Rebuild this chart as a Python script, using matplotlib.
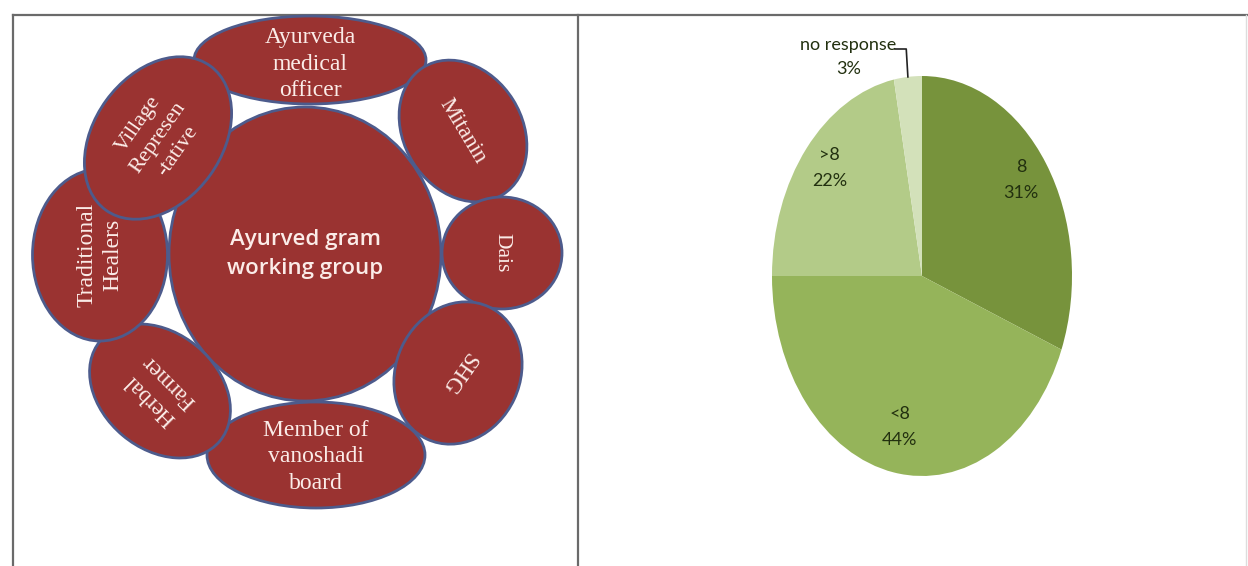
import numpy as np
import matplotlib
matplotlib.use("Agg")
import matplotlib.pyplot as plt
from matplotlib.patches import Ellipse

# ---- Left panel: members of the Ayurved gram working group ----
hub_label = "Ayurved gram\nworking group"
member_labels = [
    "Ayurveda\nmedical\nofficer",
    "Mitanin",
    "Dais",
    "SHG",
    "Member of\nvanoshadi\nboard",
    "Herbal\nFarmer",
    "Traditional\nHealers",
    "Village\nRepresen\n-tative",
]

# ---- Right panel: pie of responses ----
categories = ["8", "<8", ">8", "no response"]
shares = [31, 44, 22, 3]
pie_colors = ["#77933C", "#95B45A", "#B3CB88", "#D3E1BA"]

# layout in pixel space:
# (cx, cy, width, height, screen angle, text rotation, fontsize, text dy)
hub_layout = (305, 254, 272, 294, 0, 0, 16, 0)
member_layout = [
    (310, 60, 232, 88, 0, 0, 17, 4),
    (463, 131, 150, 118, -58, -59, 16.5, 0),
    (502, 253, 120, 112, 0, -90, 15.5, 0),
    (458, 373, 146, 124, 65, -125, 16.5, 0),
    (316, 455, 218, 106, 0, 0, 17, 2),
    (160, 391, 156, 116, -40, 135, 16.5, 0),
    (100, 255, 135, 172, 0, 90, 17, 0),
    (158, 138, 178, 128, 54, 55, 16, 0),
]

FILL = "#9A3331"
EDGE = "#4D5B8C"
TEXT = "#FBECE8"

W, H = 1248, 566
fig = plt.figure(figsize=(W / 100, H / 100), dpi=100)
fig.patch.set_facecolor("white")
ax = fig.add_axes([0, 0, 1, 1])
ax.set_xlim(0, W)
ax.set_ylim(H, 0)
ax.axis("off")

# table-like frame
frame_kw = dict(color="#6a6a6a", lw=1.6)
ax.plot([13, W], [15, 15], **frame_kw)
ax.plot([13, 13], [15, H], **frame_kw)
ax.plot([578, 578], [15, H], **frame_kw)
ax.plot([1246, 1246], [15, H], color="#dddddd", lw=1.0)

# hub circle
cx, cy, w, h, ang, rot, fs, dy = hub_layout
ax.add_patch(Ellipse((cx, cy), w, h, angle=-ang, facecolor=FILL,
                     edgecolor=EDGE, lw=2, zorder=2))
ax.text(cx, cy + dy, hub_label, ha="center", va="center", color=TEXT,
        fontsize=fs, family="Open Sans", fontweight="semibold",
        linespacing=1.55, zorder=5)

# satellite members
for label, (cx, cy, w, h, ang, rot, fs, dy) in zip(member_labels, member_layout):
    ax.add_patch(Ellipse((cx, cy), w, h, angle=-ang, facecolor=FILL,
                         edgecolor=EDGE, lw=2, zorder=3))
    ax.text(cx, cy + dy, label, ha="center", va="center", color=TEXT,
            fontsize=fs, family="Liberation Serif", rotation=rot,
            rotation_mode="anchor", linespacing=1.33, zorder=5)

# pie drawn as a vertically stretched ellipse
pie_cx, pie_cy, rx, ry = 922, 276, 150, 200
ax2 = fig.add_axes([(pie_cx - rx) / W, (H - pie_cy - ry) / H,
                    2 * rx / W, 2 * ry / H])
ax2.pie(shares, colors=pie_colors, startangle=90, counterclock=False,
        radius=1, wedgeprops=dict(linewidth=0))
ax2.set_aspect("auto")
ax2.set_xlim(-1, 1)
ax2.set_ylim(-1, 1)
ax2.axis("off")

fracs = np.array(shares) / np.sum(shares)
cum = np.cumsum(fracs)
mid_deg = 90 - 360 * (cum - fracs / 2)
mid = np.deg2rad(mid_deg)

label_font = dict(family="Lato", fontsize=13, color="#22300f")
for i in range(3):
    ax2.text(0.80 * np.cos(mid[i]), 0.80 * np.sin(mid[i]) + 0.03,
             f"{categories[i]}\n{shares[i]}%", ha="center", va="center",
             linespacing=1.8, **label_font)

# outside label with leader line for the smallest slice
ax2.text(-0.49, 1.095, f"{categories[3]}\n{shares[3]}%", ha="center",
         va="center", linespacing=1.6, clip_on=False, **label_font)
ex, ey = np.cos(mid[3]), np.sin(mid[3])
ax2.plot([-0.18, -0.105, ex], [1.135, 1.135, ey], color="#222222",
         lw=1.2, clip_on=False)

fig.savefig("out.png", dpi=100, facecolor="white")
